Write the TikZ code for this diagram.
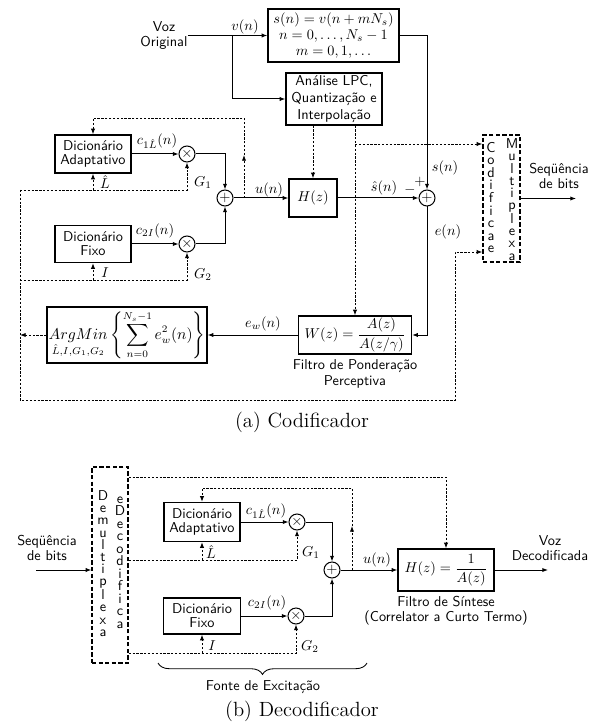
\documentclass[tikz,border=0pt]{standalone}
\usepackage{amsmath}
\usetikzlibrary{arrows.meta,decorations.pathreplacing}
\begin{document}
\begin{tikzpicture}[x=0.7pt,y=-0.7pt,
  blk/.style={draw, line width=0.9pt, inner sep=0.5pt, font=\sffamily, align=center},
  dbox/.style={draw, line width=0.9pt, dash pattern=on 3pt off 1.6pt, inner sep=0pt},
  cir/.style={draw, circle, line width=0.7pt, minimum size=11.2pt, inner sep=0pt},
  sig/.style={line width=0.7pt, -{Latex[length=4pt,width=3pt]}},
  ctl/.style={line width=0.6pt, dash pattern=on 1.6pt off 1.1pt, -{Latex[length=4pt,width=3pt]}},
  lbl/.style={font=\sffamily, align=center, inner sep=0pt},
  mth/.style={inner sep=0pt},
  stack/.style={inner sep=0pt, align=center, font={\sffamily\fontsize{10}{#1}\selectfont}},
  captxt/.style={inner sep=0pt, font={\fontsize{14.4}{17}\selectfont}}
]
\useasboundingbox (0,0) rectangle (597,724);

% ---------------- Encoder ----------------
\node[lbl, font={\sffamily\fontsize{10}{10}\selectfont}] (voz) at (164,35.5) {Voz\\Original};
\node[blk, minimum width=91.7pt, minimum height=37.1pt, inner sep=0pt, font={\fontsize{10}{11.2}\selectfont}] (sbox) at (333.5,35.5)
  {$s(n)=v(n+mN_s)$\\$n=0,\ldots,N_s-1$\\$m=0,1,\ldots$};
\node[blk, minimum width=67.2pt, minimum height=36.4pt, font={\sffamily\fontsize{10}{11.9}\selectfont}] (lpc) at (334,99)
  {Análise LPC,\\Quantização e\\Interpolação};
\node[blk, minimum width=53.2pt, minimum height=26.6pt, font={\sffamily\fontsize{10}{9.8}\selectfont}] (adapt) at (93,154)
  {Dicionário\\Adaptativo};
\node[blk, minimum width=53.2pt, minimum height=25.9pt, font={\sffamily\fontsize{10}{9.8}\selectfont}] (fixo) at (93,244)
  {Dicionário\\Fixo};
\node[cir] (m1) at (187,154) {$\times$};
\node[cir] (m2) at (187,244) {$\times$};
\node[cir] (s1) at (225,198) {$+$};
\node[blk, minimum width=33.6pt, minimum height=26.6pt] (H) at (313,198) {$H(z)$};
\node[cir] (s2) at (427,198) {$+$};
\node[blk, minimum width=79.1pt, minimum height=26.6pt] (W) at (355,335) {$W(z)=\dfrac{A(z)}{A(z/\gamma)}$};
\node[blk, minimum width=112pt, minimum height=39.2pt, font={\fontsize{10.5}{12}\selectfont}] (arg) at (127,335)
  {$\displaystyle \mathop{ArgMin}\limits_{\hat{L},I,G_1,G_2}\left\{\sum_{n=0}^{N_s-1}e_w^2(n)\right\}$};
\node[dbox, minimum width=25.9pt, minimum height=88.9pt] (cod) at (501.5,198.5) {};
\node[stack=8.8] (codA) at (491,197.5) {C\\o\\d\\i\\f\\i\\c\\a\\e};
\node[stack=8.5] (codB) at (512,199.5) {M\\u\\l\\t\\i\\p\\l\\e\\x\\a};

% coordinates
\coordinate (br1) at (232,35.5);
\coordinate (ub) at (244,198);
\coordinate (ubm) at (244,155);
\coordinate (ubt) at (244,118);
\coordinate (lp) at (355,144);
\coordinate (c1) at (20,190);
\coordinate (c5) at (20,280);
\coordinate (c2) at (20,400);
\coordinate (c3) at (455,400);
\coordinate (c4) at (455,252);
\coordinate (out1) at (576,198.5);

% solid signals
\draw[sig] (voz.east) -- (sbox.west);
\draw[sig] (br1) |- (lpc.west);
\draw[sig] (sbox.east) -| (s2.north);
\draw[sig] (adapt.east) -- (m1.west);
\draw[sig] (fixo.east) -- (m2.west);
\draw[sig] (m1.east) -| (s1.north);
\draw[sig] (m2.east) -| (s1.south);
\draw[sig] (s1.east) -- (H.west);
\draw[sig] (H.east) -- (s2.west);
\draw[sig] (s2.south) |- (W.east);
\draw[sig] (W.west) -- (arg.east);
\draw[sig] (cod.east |- out1) -- (out1);

% control (dotted)
\draw[ctl] (ub) -- (ubm);
\draw[ctl] (ubm) -- (ubt) -| (adapt.north);
\draw[ctl] (H.north |- lpc.south) -- (H.north);
\draw[ctl] (W.north |- lpc.south) -- (W.north);
\draw[ctl] (lp) -- (lp -| cod.west);
\draw[ctl] (arg.west) -- (arg.west -| c1);
\draw[ctl] (c1) -- (c2) -- (c3) -- (c4) -- (c4 -| cod.west);
\draw[ctl] (c1) -| (m1.south);
\draw[ctl] (adapt.south |- c1) -- (adapt.south);
\draw[ctl] (c5) -| (m2.south);
\draw[ctl] (fixo.south |- c5) -- (fixo.south);

% labels
\node[mth] (lv) at (245,27) {$v(n)$};
\node[mth] (lc1) at (157,141) {$c_{1\hat{L}}(n)$};
\node[mth] (lc2) at (155,231) {$c_{2I}(n)$};
\node[mth] (lL) at (105,182) {$\hat{L}$};
\node[mth] (lG1) at (203,183) {$G_1$};
\node[mth] (lI) at (105,273) {$I$};
\node[mth] (lG2) at (203,275) {$G_2$};
\node[mth] (lu) at (269,190) {$u(n)$};
\node[mth] (lsh) at (384,188) {$\hat{s}(n)$};
\node[mth] (lmin) at (410,190) {$-$};
\node[mth] (lplus) at (420,182) {$+$};
\node[mth] (lsn) at (445,168) {$s(n)$};
\node[mth] (len) at (448,232) {$e(n)$};
\node[mth] (lew) at (263,324) {$e_w(n)$};
\node[lbl, font={\sffamily\fontsize{10}{10.5}\selectfont}] (lseq) at (559,175.5) {Seqüência\\de bits};
\node[lbl, font={\sffamily\fontsize{10}{11}\selectfont}] (lfp) at (355,374) {Filtro de Ponderação\\Perceptiva};
\node[captxt] (capa) at (302,422) {(a) Codificador};

% ---------------- Decoder ----------------
\node[dbox, minimum width=25.2pt, minimum height=137.2pt] (dmx) at (110,565) {};
\node[stack=8.5] (dmxA) at (103,563.5) {D\\e\\m\\u\\l\\t\\i\\p\\l\\e\\x\\a};
\node[stack=8.75] (dmxB) at (120,562.5) {e\\D\\e\\c\\o\\d\\i\\f\\i\\c\\a};
\node[blk, minimum width=53.2pt, minimum height=27.3pt, font={\sffamily\fontsize{10}{9.8}\selectfont}] (adapt2) at (202,522)
  {Dicionário\\Adaptativo};
\node[blk, minimum width=54pt, minimum height=25.2pt, font={\sffamily\fontsize{10}{9.8}\selectfont}] (fixo2) at (202,616)
  {Dicionário\\Fixo};
\node[cir] (m3) at (297,522) {$\times$};
\node[cir] (m4) at (296,616) {$\times$};
\node[cir] (s3) at (332,570) {$+$};
\node[blk, minimum width=67.2pt, minimum height=29.4pt] (H2) at (446,570) {$H(z)=\dfrac{1}{A(z)}$};

\coordinate (in2) at (36,570);
\coordinate (out2) at (548,570);
\coordinate (dt) at (446,477);
\coordinate (ub2) at (352,570);
\coordinate (ub2m) at (352,526);
\coordinate (ub2t) at (352,488);
\coordinate (dL) at (297,560);
\coordinate (dI) at (296,653);

\draw[sig] (in2) -- (dmx.west |- in2);
\draw[sig] (adapt2.east) -- (m3.west);
\draw[sig] (fixo2.east) -- (m4.west);
\draw[sig] (m3.east) -| (s3.north);
\draw[sig] (m4.east) -| (s3.south);
\draw[sig] (s3.east) -- (H2.west);
\draw[sig] (H2.east) -- (out2);

\draw[ctl] (dmx.east |- dt) -- (dt) -- (H2.north);
\draw[ctl] (ub2) -- (ub2m);
\draw[ctl] (ub2m) -- (ub2t) -| (adapt2.north);
\draw[ctl] (dmx.east |- dL) -- (dL) -- (m3.south);
\draw[ctl] (adapt2.south |- dL) -- (adapt2.south);
\draw[ctl] (dmx.east |- dI) -- (dI) -- (m4.south);
\draw[ctl] (fixo2.south |- dI) -- (fixo2.south);

\coordinate (bl) at (158,663);
\coordinate (brr) at (367,663);
\draw[line width=0.6pt, decorate, decoration={brace, mirror, amplitude=8pt}] (bl) -- (brr);

\node[lbl, font={\sffamily\fontsize{10}{10.5}\selectfont}] (lseq2) at (47,547.5) {Seqüência\\de bits};
\node[lbl, font={\sffamily\fontsize{10}{10}\selectfont}] (lvoz2) at (550,548) {Voz\\Decodificada};
\node[mth] (lc3) at (266,511) {$c_{1\hat{L}}(n)$};
\node[mth] (lc4) at (267,603) {$c_{2I}(n)$};
\node[mth] (lL2) at (211,552) {$\hat{L}$};
\node[mth] (lG3) at (311,553) {$G_1$};
\node[mth] (lI2) at (212,646) {$I$};
\node[mth] (lG4) at (310,647) {$G_2$};
\node[mth] (lu2) at (377,560) {$u(n)$};
\node[lbl, font={\sffamily\fontsize{10}{10.5}\selectfont}] (lfs) at (446,610.5) {Filtro de Síntese\\(Correlator a Curto Termo)};
\node[lbl] (lfe) at (263,687) {Fonte de Excitação};
\node[captxt] (capb) at (302,711) {(b) Decodificador};
\end{tikzpicture}
\end{document}
